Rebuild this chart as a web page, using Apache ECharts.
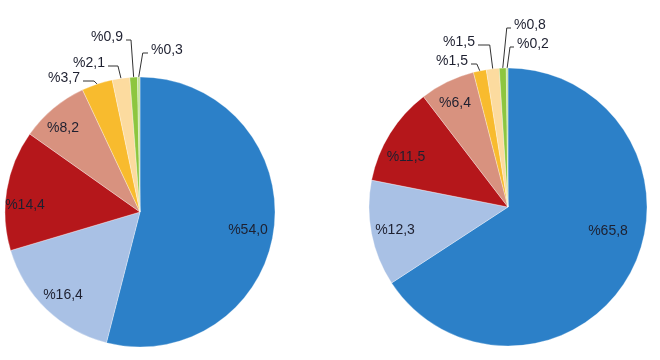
<!DOCTYPE html>
<html>
<head>
<meta charset="utf-8">
<script src="https://cdn.jsdelivr.net/npm/echarts@6/dist/echarts.min.js"></script>
<style>html,body{margin:0;padding:0;background:#fff}#c{width:660px;height:360px}</style>
</head>
<body>
<div id="c"></div>
<script>
// ---- data ----
var categories = ['Dilim 1', 'Dilim 2', 'Dilim 3', 'Dilim 4', 'Dilim 5', 'Dilim 6', 'Dilim 7', 'Dilim 8'];
var leftValues = [54.0, 16.4, 14.4, 8.2, 3.7, 2.1, 0.9, 0.3];
var rightValues = [65.8, 12.3, 11.5, 6.4, 1.5, 1.5, 0.8, 0.2];

// ---- styles / layout ----
var colors = ['#2c80c8', '#a9c1e5', '#b5171b', '#d8927f', '#f8bb2e', '#fcdb9f', '#8dc63f', '#c2e39a'];
var pies = [
  { center: [140, 212], radius: 135 },
  { center: [508, 207], radius: 139 }
];
// label offsets from pie centre: [dx, dy, align]
var labelPos = [
  [[108, 18, 'center'], [-77, 83, 'center'], [-115, -7, 'center'], [-77, -84, 'center'],
   [-60, -134, 'right'], [-35, -149, 'right'], [-17, -175, 'right'], [11, -162, 'left']],
  [[100, 24, 'center'], [-113, 23, 'center'], [-102, -50, 'center'], [-53, -104, 'center'],
   [-40, -146, 'right'], [-33, -165, 'right'], [6, -182, 'left'], [9, -163, 'left']]
];
var OUTSIDE_FROM = 4;

function fmt(p) { return '%' + p.value.toFixed(1).replace('.', ','); }

function buildData(values) {
  return values.map(function (v, i) {
    var outside = i >= OUTSIDE_FROM;
    return {
      name: categories[i],
      value: v,
      itemStyle: { color: colors[i] },
      label: { position: outside ? 'outside' : 'inside' },
      labelLine: { show: outside, length: 10, length2: 10 }
    };
  });
}

function makeLayout(si) {
  return function (params) {
    var i = params.dataIndex;
    var lp = labelPos[si][i];
    var c = pies[si].center;
    var x = c[0] + lp[0], y = c[1] + lp[1];
    var res = { x: x, y: y, align: lp[2], verticalAlign: 'middle' };
    if (i >= OUTSIDE_FROM && params.labelLinePoints) {
      var edge = params.labelLinePoints[0];
      var ly = y + 3;
      var end, elbow;
      if (lp[2] === 'right') {
        end = [x + 3, ly];
        elbow = [Math.max(end[0] + 5, edge[0] - 3), ly];
      } else {
        end = [x - 3, ly];
        elbow = [Math.min(end[0] - 4, edge[0] + 4), ly];
      }
      res.labelLinePoints = [edge, elbow, end];
    }
    return res;
  };
}

function makeSeries(values, si) {
  return {
    type: 'pie',
    center: pies[si].center,
    radius: pies[si].radius,
    startAngle: 90,
    clockwise: true,
    avoidLabelOverlap: false,
    animation: false,
    silent: true,
    data: buildData(values),
    itemStyle: { borderColor: 'rgba(255,255,255,0.6)', borderWidth: 0.5 },
    label: {
      show: true,
      formatter: fmt,
      fontFamily: 'Liberation Sans, Arial, sans-serif',
      fontSize: 14,
      color: '#1e2030',
      overflow: 'none'
    },
    labelLine: { lineStyle: { color: '#333', width: 1 }, smooth: false },
    labelLayout: makeLayout(si)
  };
}

var chart = echarts.init(document.getElementById('c'), null, { renderer: 'canvas' });
chart.setOption({
  backgroundColor: '#fff',
  animation: false,
  series: [makeSeries(leftValues, 0), makeSeries(rightValues, 1)]
});
</script>
</body>
</html>
